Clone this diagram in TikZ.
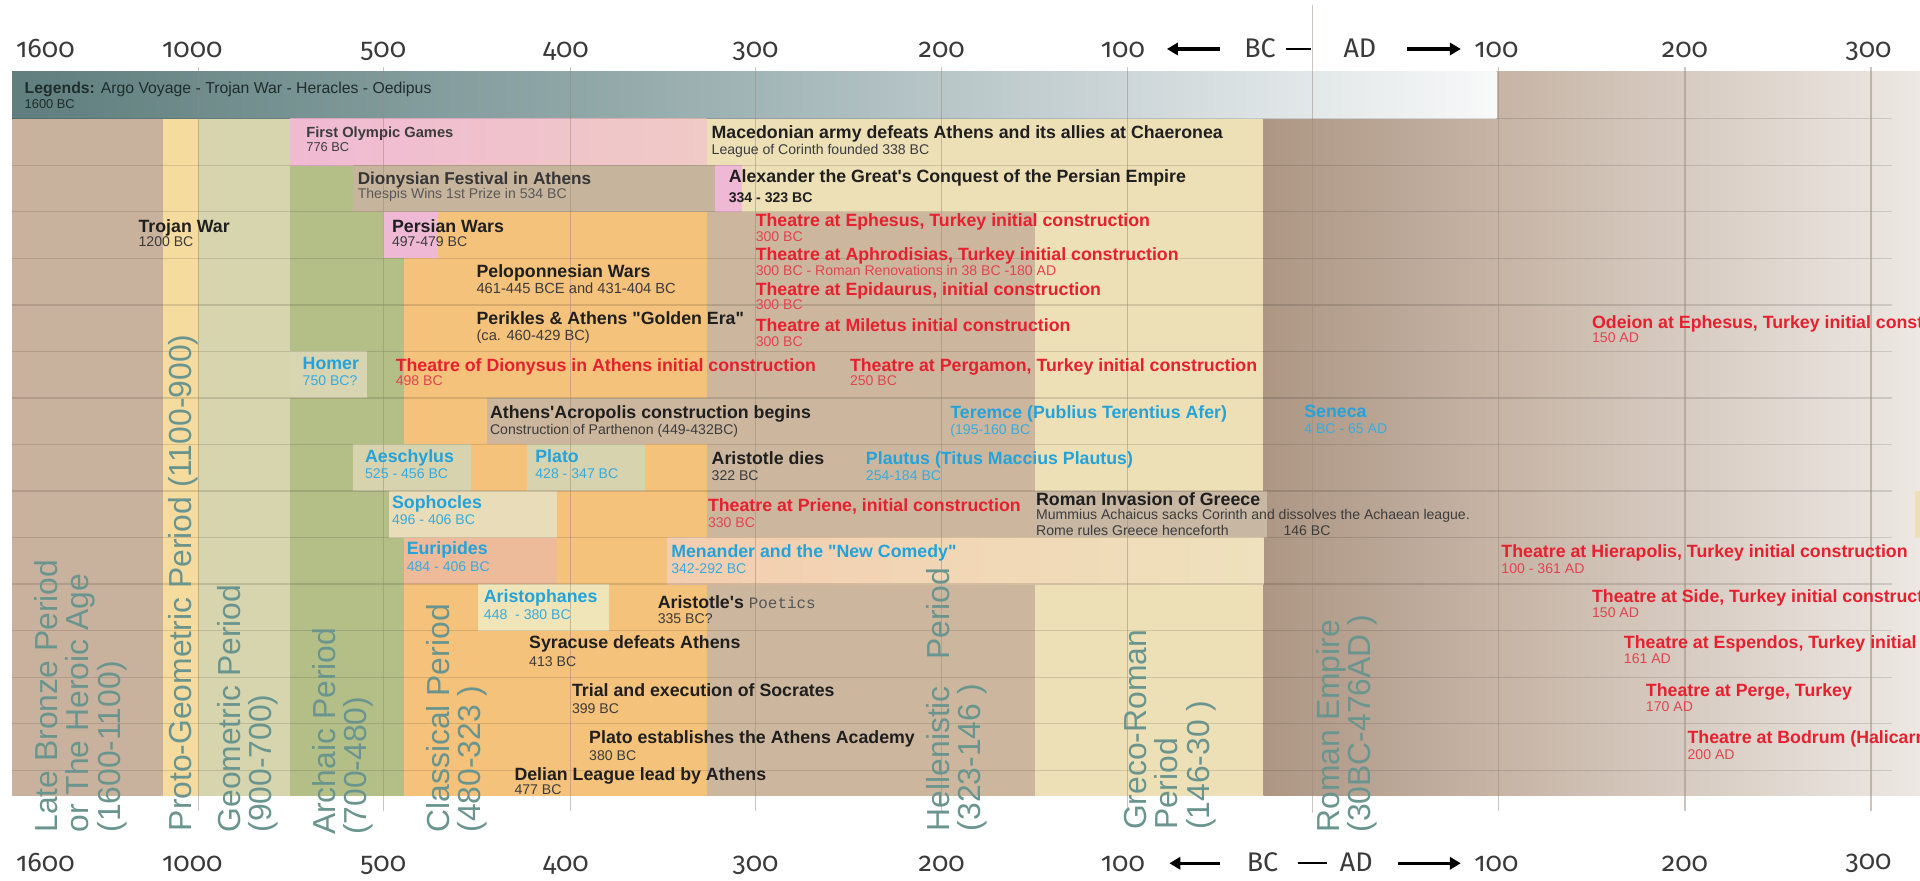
\documentclass[tikz,border=0pt]{standalone}
\usepackage{fontspec}
\setmainfont{Liberation Sans}[Ligatures=TeXOff]
\newfontfamily\tickfont[Numbers=OldStyle]{Fira Sans}
\newfontfamily\poefont{Liberation Mono}
\usetikzlibrary{arrows.meta}
\definecolor{bronze}{HTML}{C9B29D}
\definecolor{proto}{HTML}{F6DB9F}
\definecolor{geom}{HTML}{D6D5AE}
\definecolor{archaic}{HTML}{B4BF87}
\definecolor{classic}{HTML}{F4C27B}
\definecolor{hellen}{HTML}{CCB79E}
\definecolor{greco}{HTML}{EDE0B6}
\definecolor{romanA}{HTML}{AD9684}
\definecolor{romanB}{HTML}{C6B4A5}
\definecolor{romanC}{HTML}{DACFC6}
\definecolor{romanD}{HTML}{EDE8E3}
\definecolor{legA}{HTML}{5F7E7D}
\definecolor{legB}{HTML}{95ABAC}
\definecolor{legC}{HTML}{CAD4D6}
\definecolor{legD}{HTML}{F8F9F9}
\definecolor{pinkA}{HTML}{F0BAD3}
\definecolor{pinkB}{HTML}{F0CAC6}
\definecolor{dion}{HTML}{C7B49C}
\definecolor{persp}{HTML}{EFB8D4}
\definecolor{homerb}{HTML}{D8D6B2}
\definecolor{aesch}{HTML}{D7D3AF}
\definecolor{soph}{HTML}{E8DCB9}
\definecolor{euri}{HTML}{EDBA9A}
\definecolor{menA}{HTML}{F3CDAF}
\definecolor{menB}{HTML}{EFE1BD}
\definecolor{aristo}{HTML}{EFE5B8}
\definecolor{invas}{HTML}{C7B7A3}
\definecolor{perlab}{HTML}{6A958F}
\definecolor{tred}{HTML}{E6202E}
\definecolor{tredl}{HTML}{E24450}
\definecolor{tblue}{HTML}{24A3DA}
\definecolor{tbluel}{HTML}{38ABDD}
\definecolor{tblk}{HTML}{1F1F1F}
\definecolor{tgray}{HTML}{3C3C3C}
\definecolor{gridc}{HTML}{9C8A78}
\definecolor{tickc}{HTML}{3A3A3A}
\definecolor{legt}{HTML}{1F2D2D}
\definecolor{poec}{HTML}{555555}
\tikzset{
 ttl/.style={anchor=base west, inner sep=0pt, font=\bfseries\fontsize{14.5}{16}\selectfont, text=tblk},
 sbt/.style={anchor=base west, inner sep=0pt, font=\fontsize{11.5}{13}\selectfont, text=tgray},
 rttl/.style={ttl, text=tred},
 rsbt/.style={sbt, text=tredl},
 bttl/.style={ttl, text=tblue},
 bsbt/.style={sbt, text=tbluel},
 per/.style={rotate=90, anchor=north west, inner sep=0pt, align=left, font=\fontsize{26}{25.5}\selectfont, text=perlab},
 tick/.style={anchor=base, inner sep=0pt, font=\tickfont\fontsize{22}{24}\selectfont, text=tickc},
 tickw/.style={tick, anchor=base west},
 vline/.style={draw=gridc, draw opacity=0.5, line width=1pt},
 hline/.style={draw=black, draw opacity=0.12, line width=1pt},
 bcarrow/.style={draw=black, line width=2.6pt, -{Triangle[length=9pt,width=10pt]}},
 bcdash/.style={draw=black, line width=2pt},
}
\begin{document}
\begin{tikzpicture}[x=1pt,y=-1pt]
\useasboundingbox (0,0) rectangle (1568,719);
\fill[white] (0,0) rectangle (1568,719);
\begin{scope}
\clip (0,0) rectangle (1568,719);
% ---------- period bands ----------
\fill[bronze] (10,97) rectangle (133,650);
\fill[proto] (133,97) rectangle (162,650);
\fill[geom] (162,97) rectangle (237,650);
\fill[archaic] (237,97) rectangle (330,650);
\fill[classic] (313,173) rectangle (577,211);
\fill[classic] (330,211) rectangle (577,650);
\fill[hellen] (577,173) rectangle (845,650);
\fill[greco] (577,97) rectangle (1032,173);
\fill[greco] (845,173) rectangle (1032,650);
\shade[left color=romanA,right color=romanB] (1032,97) rectangle (1222.5,650);
\shade[left color=romanB,right color=romanC] (1222,58) rectangle (1400.5,650);
\shade[left color=romanC,right color=romanD] (1400,58) rectangle (1568,650);
% legend bar
\shade[left color=legA,right color=legB] (10,58) rectangle (520.5,97);
\shade[left color=legB,right color=legC] (520,58) rectangle (900.5,97);
\shade[left color=legC,right color=legD] (900,58) rectangle (1222,97);
% ---------- event boxes ----------
\shade[left color=pinkA,right color=pinkB] (237,97) rectangle (577,135);
\fill[dion] (288,135) rectangle (584,173);
\fill[persp] (584,135) rectangle (606,173);
\fill[persp] (313,173) rectangle (358,211);
\fill[homerb] (237,287) rectangle (300,325);
\fill[hellen] (398,325) rectangle (577,363);
\fill[aesch] (288,363) rectangle (385,401);
\fill[aesch] (430,363) rectangle (527,401);
\fill[soph] (318,401) rectangle (455,439);
\fill[invas] (845,401) rectangle (1035,439);
\fill[greco] (1564,401) rectangle (1568,439);
\fill[euri] (330,439) rectangle (455,477);
\shade[left color=menA,right color=menB] (545,439) rectangle (1032,477);
\fill[aristo] (390,477) rectangle (497,515);
% ---------- grid lines ----------
\foreach \yy in {97,135,173,211,249,287,325,363,401,439,477,515,553,591,629}
  \draw[hline] (10,\yy) -- (1545,\yy);
\foreach \xx in {162,313,466,617,769,921,1224,1376,1528}
  \draw[vline] (\xx,55) -- (\xx,662);
\draw[vline] (1072,4) -- (1072,664);
% ---------- period labels ----------
\node[per] (plb) at (28,680) {Late Bronze Period\\or The Heroic Age\\(1600-1100)};
\node[per] (ppg) at (137,679) {Proto-Geometric Period (1100-900)};
\node[per] (pge) at (177,680) {Geometric Period\\(900-700)};
\node[per] (par) at (255,682) {Archaic Period\\(700-480)};
\node[per] (pcl) at (348,680) {Classical Period\\(480-323 )};
\node[per] (phe) at (756,679) {Hellenistic\ \ \ Period\\(323-146 )};
\node[per] (pgr) at (918,678) {Greco-Roman\\Period\\(146-30 )};
\node[per] (pro) at (1075,680) {Roman Empire\\(30BC-476AD )};
% ---------- legend text ----------
\node[anchor=base west, inner sep=0pt, font=\fontsize{12.9}{14}\selectfont, text=legt] (leg) at (20,76.5) {\textbf{Legends:} Argo Voyage - Trojan War - Heracles - Oedipus};
\node[anchor=base west, inner sep=0pt, font=\fontsize{10.5}{12}\selectfont, text=legt] (legd) at (20,89) {1600 BC};
% ---------- events ----------
\node[ttl, font=\bfseries\fontsize{12}{14}\selectfont, text=tgray] (olymp) at (250,112) {First Olympic Games};
\node[sbt, font=\fontsize{10.5}{12}\selectfont] (olympd) at (250,124) {776 BC};
\node[ttl] (maced) at (581,113) {Macedonian army defeats Athens and its allies at Chaeronea};
\node[sbt] (macedd) at (581,126) {League of Corinth founded 338 BC};
\node[ttl, font=\bfseries\fontsize{14}{16}\selectfont, text=tgray!90!black] (dion) at (292,151) {Dionysian Festival in Athens};
\node[sbt, text=tgray!85] (diond) at (292,162) {Thespis Wins 1st Prize in 534 BC};
\node[ttl] (alex) at (595,149) {Alexander the Great's Conquest of the Persian Empire};
\node[sbt, font=\bfseries\fontsize{11.5}{13}\selectfont, text=tblk] (alexd) at (595,165) {334 - 323 BC};
\node[ttl] (trojan) at (113,190) {Trojan War};
\node[sbt] (trojand) at (113,201) {1200 BC};
\node[ttl] (persian) at (320,190) {Persian Wars};
\node[sbt] (persiand) at (320,201) {497-479 BC};
\node[rttl] (ephes) at (617,185) {Theatre at Ephesus, Turkey initial construction};
\node[rsbt] (ephesd) at (617,197) {300 BC};
\node[ttl] (pelop) at (389,227) {Peloponnesian Wars};
\node[sbt, font=\fontsize{12}{13}\selectfont] (pelopd) at (389,240) {461-445 BCE and 431-404 BC};
\node[rttl] (aphro) at (617,213) {Theatre at Aphrodisias, Turkey initial construction};
\node[rsbt] (aphrod) at (617,225) {300 BC - Roman Renovations in 38 BC -180 AD};
\node[rttl] (epid) at (617,241) {Theatre at Epidaurus, initial construction};
\node[rsbt] (epidd) at (617,253) {300 BC};
\node[ttl] (perik) at (389,265) {Perikles \& Athens "Golden Era"};
\node[sbt, font=\fontsize{12}{13}\selectfont] (perikd) at (389,278) {(ca. 460-429 BC)};
\node[rttl] (milet) at (617,271) {Theatre at Miletus initial construction};
\node[rsbt] (miletd) at (617,283) {300 BC};
\node[rttl] (odeion) at (1300,268) {Odeion at Ephesus, Turkey initial construction};
\node[rsbt] (odeiond) at (1300,280) {150 AD};
\node[bttl] (homer) at (247,302) {Homer};
\node[bsbt] (homerd) at (247,315) {750 BC?};
\node[rttl] (tdion) at (323,303) {Theatre of Dionysus in Athens initial construction};
\node[rsbt] (tdiond) at (323,315) {498 BC};
\node[rttl] (perg) at (694,303) {Theatre at Pergamon, Turkey initial construction};
\node[rsbt] (pergd) at (694,315) {250 BC};
\node[ttl] (acrop) at (400,342) {Athens'Acropolis construction begins};
\node[sbt] (acropd) at (400,355) {Construction of Parthenon (449-432BC)};
\node[bttl] (terem) at (776,342) {Teremce (Publius Terentius Afer)};
\node[bsbt] (teremd) at (776,355) {(195-160 BC};
\node[bttl] (seneca) at (1065,341) {Seneca};
\node[bsbt] (senecad) at (1065,354) {4 BC - 65 AD};
\node[bttl] (aesch) at (298,378) {Aeschylus};
\node[bsbt] (aeschd) at (298,391) {525 - 456 BC};
\node[bttl] (plato) at (437,378) {Plato};
\node[bsbt] (platod) at (437,391) {428 - 347 BC};
\node[ttl] (aridies) at (581,379) {Aristotle dies};
\node[sbt] (aridiesd) at (581,392) {322 BC};
\node[bttl] (plaut) at (707,379) {Plautus (Titus Maccius Plautus)};
\node[bsbt] (plautd) at (707,392) {254-184 BC};
\node[bttl] (soph) at (320,415) {Sophocles};
\node[bsbt] (sophd) at (320,428) {496 - 406 BC};
\node[rttl] (priene) at (578,418) {Theatre at Priene, initial construction};
\node[rsbt] (prieneD) at (578,431) {330 BC};
\node[ttl] (invas) at (846,413) {Roman Invasion of Greece};
\node[sbt] (invasa) at (846,424.5) {Mummius Achaicus sacks Corinth and dissolves the Achaean league.};
\node[sbt] (invasb) at (846,437) {Rome rules Greece henceforth};
\node[sbt] (invasd) at (1048,437) {146 BC};
\node[bttl] (euri) at (332,453) {Euripides};
\node[bsbt] (eurid) at (332,467) {484 - 406 BC};
\node[bttl] (menan) at (548,455) {Menander and the "New Comedy"};
\node[bsbt] (menand) at (548,468) {342-292 BC};
\node[rttl] (hiera) at (1226,455) {Theatre at Hierapolis, Turkey initial construction};
\node[rsbt] (hierad) at (1226,468) {100 - 361 AD};
\node[bttl] (aristoph) at (395,492) {Aristophanes};
\node[bsbt] (aristophd) at (395,506) {448\ \ - 380 BC};
\node[ttl] (poet) at (537,497) {Aristotle's {\poefont\mdseries\color{poec}\fontsize{13}{14}\selectfont Poetics}};
\node[sbt] (poetd) at (537,509) {335 BC?};
\node[rttl] (side) at (1300,492) {Theatre at Side, Turkey initial construction};
\node[rsbt] (sided) at (1300,504) {150 AD};
\node[ttl] (syrac) at (432,530) {Syracuse defeats Athens};
\node[sbt] (syracd) at (432,544) {413 BC};
\node[rttl] (espen) at (1326,530) {Theatre at Espendos, Turkey initial construction};
\node[rsbt] (espend) at (1326,542) {161 AD};
\node[ttl] (trial) at (467,569) {Trial and execution of Socrates};
\node[sbt] (triald) at (467,583) {399 BC};
\node[rttl] (perge) at (1344,569) {Theatre at Perge, Turkey};
\node[rsbt] (perged) at (1344,581) {170 AD};
\node[ttl] (acad) at (481,607) {Plato establishes the Athens Academy};
\node[sbt] (acadd) at (481,621) {380 BC};
\node[rttl] (bodrum) at (1378,607) {Theatre at Bodrum (Halicarnassus)};
\node[rsbt] (bodrumd) at (1378,620) {200 AD};
\node[ttl] (delian) at (420,637) {Delian League lead by Athens};
\node[sbt] (deliand) at (420,649) {477 BC};
\end{scope}
% ---------- scale labels: top ----------
\node[tick] (t1600) at (37,47) {1600};
\node[tick] (t1000) at (157,47) {1000};
\node[tick] (t500) at (313,47) {500};
\node[tick] (t400) at (462,47) {400};
\node[tick] (t300) at (617,47) {300};
\node[tick] (t200) at (769,47) {200};
\node[tick] (t100) at (917,47) {100};
\node[tickw] (tbc) at (1016,47) {BC};
\node[tickw] (tad) at (1097,47) {AD};
\node[tick] (ta100) at (1222,47) {100};
\node[tick] (ta200) at (1376,47) {200};
\node[tick] (ta300) at (1526,47) {300};
\coordinate (tl1) at (996,40);
\coordinate (tl2) at (953,40);
\coordinate (tr1) at (1149,40);
\coordinate (tr2) at (1193,40);
\coordinate (td1) at (1050,40);
\coordinate (td2) at (1071,40);
\draw[bcarrow] (tl1) -- (tl2);
\draw[bcarrow] (tr1) -- (tr2);
\draw[bcdash] (td1) -- (td2);
% ---------- scale labels: bottom ----------
\node[tick] (b1600) at (37,712) {1600};
\node[tick] (b1000) at (157,712) {1000};
\node[tick] (b500) at (313,712) {500};
\node[tick] (b400) at (462,712) {400};
\node[tick] (b300) at (617,712) {300};
\node[tick] (b200) at (769,712) {200};
\node[tick] (b100) at (917,712) {100};
\node[tickw] (bbc) at (1018,712) {BC};
\node[tickw] (bad) at (1094,712) {AD};
\node[tick] (ba100) at (1222,712) {100};
\node[tick] (ba200) at (1376,712) {200};
\node[tick] (ba300) at (1526,710) {300};
\coordinate (bl1) at (996,705);
\coordinate (bl2) at (955,705);
\coordinate (br1) at (1142,705);
\coordinate (br2) at (1193,705);
\coordinate (bd1) at (1060,705);
\coordinate (bd2) at (1084,705);
\draw[bcarrow] (bl1) -- (bl2);
\draw[bcarrow] (br1) -- (br2);
\draw[bcdash] (bd1) -- (bd2);
\end{tikzpicture}
\end{document}
